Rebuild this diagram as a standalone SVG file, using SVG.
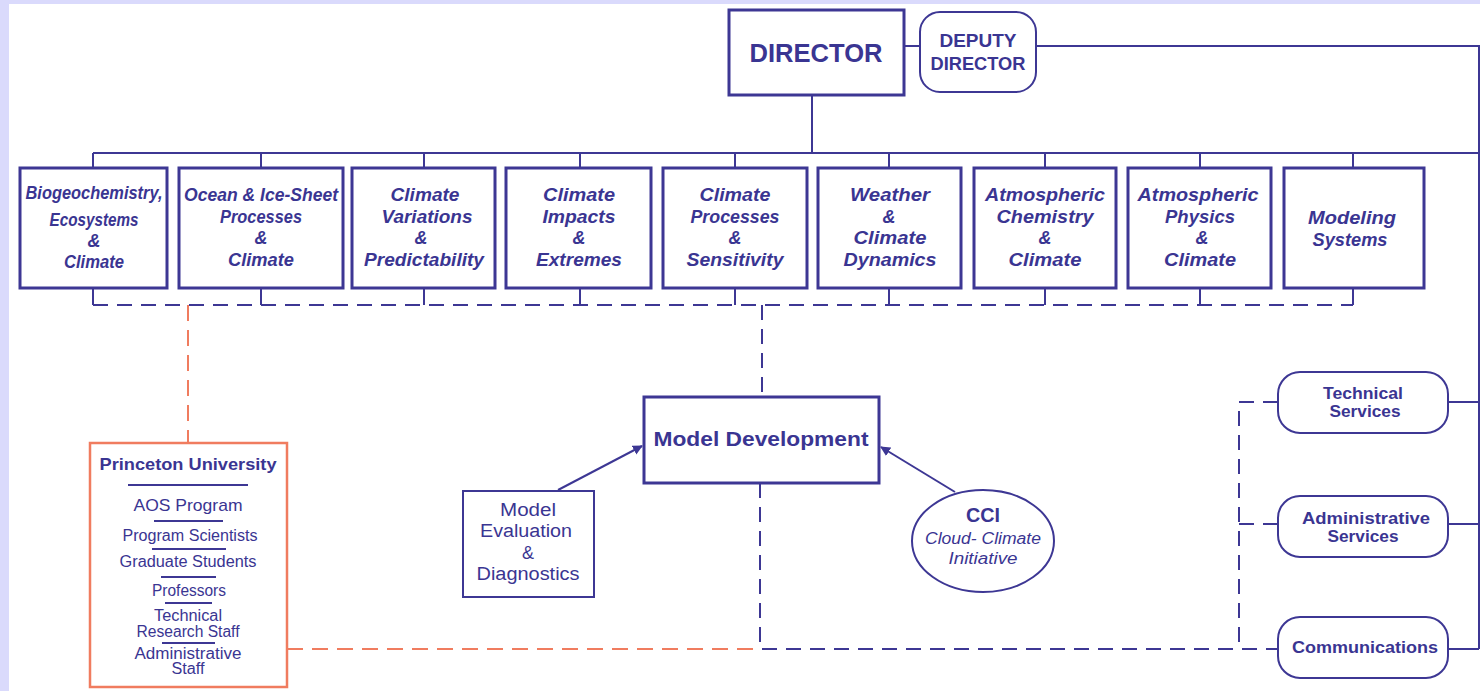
<svg xmlns="http://www.w3.org/2000/svg" width="1480" height="691" viewBox="0 0 1480 691">
<defs>
<style>
.bg{fill:#dadafc}
.box{fill:#fff;stroke:#3d3794;stroke-width:3}
.tbox{fill:#fff;stroke:#3d3794;stroke-width:2}
.ln{fill:none;stroke:#3d3794;stroke-width:2}
.dash{fill:none;stroke:#3d3794;stroke-width:2;stroke-dasharray:15 9}
.odash{fill:none;stroke:#f07c5f;stroke-width:2;stroke-dasharray:16 9}
.obox{fill:#fff;stroke:#f07c5f;stroke-width:2.5}
.sep{stroke:#3d3794;stroke-width:2}
text{fill:#3a3592;font-family:"Liberation Sans",Arial,sans-serif;text-anchor:middle}
.bi{font-weight:bold;font-style:italic;font-size:18px}
.b{font-weight:bold}
.r{font-size:16px}
</style>
<marker id="ah" viewBox="0 0 10 10" refX="9" refY="5" markerWidth="10" markerHeight="10" markerUnits="userSpaceOnUse" orient="auto">
<path d="M0,0 L10,5 L0,10 z" fill="#3d3794"/>
</marker>
</defs>
<rect x="0" y="0" width="1480" height="691" class="bg"/>
<rect x="9" y="4" width="1471" height="687" fill="#fff"/>

<g id="connectors">
<path class="ln" d="M904,46 H920 M1036,46 H1479 V649 M812,95 V153 M93,153 H1479"/>
<path class="ln" d="M93,153 V168 M261,153 V168 M424,153 V168 M580,153 V168 M735,153 V168 M889,153 V168 M1045,153 V168 M1200,153 V168 M1353,153 V168"/>
<path class="ln" d="M93,288 V305 M261,288 V305 M424,288 V305 M580,288 V305 M735,288 V305 M889,288 V305 M1045,288 V305 M1200,288 V305 M1353,288 V305"/>
<path class="dash" d="M93,305 H1353"/>
<path class="dash" d="M762,305 V397"/>
<path class="dash" d="M760,483 V649 H1278"/>
<path class="dash" d="M1278,402 H1239 V649 M1278,524 H1239"/>
<path class="ln" d="M1448,402 H1479 M1448,524 H1479 M1448,649 H1479"/>
<path class="odash" d="M188,305 V443"/>
<path class="odash" d="M287,649 H760"/>
<path class="ln" d="M558,490 L642,446" marker-end="url(#ah)"/>
<path class="ln" d="M955,492 L881,447" marker-end="url(#ah)"/>
</g>

<g id="director">
<rect class="box" x="729" y="10" width="175" height="85"/>
<text x="816" y="62" class="b" font-size="26" textLength="133" lengthAdjust="spacingAndGlyphs">DIRECTOR</text>
</g>
<g id="deputy-director">
<rect class="tbox" x="920" y="12" width="116" height="80" rx="20"/>
<text x="978" y="47" class="b" font-size="18" textLength="77" lengthAdjust="spacingAndGlyphs">DEPUTY</text>
<text x="978" y="70" class="b" font-size="18" textLength="95" lengthAdjust="spacingAndGlyphs">DIRECTOR</text>
</g>

<g id="biogeochemistry">
<rect class="box" x="20" y="168" width="147" height="120"/>
<text class="bi" x="94" y="199" font-size="17" textLength="137" lengthAdjust="spacingAndGlyphs">Biogeochemistry,</text>
<text class="bi" x="94" y="226" font-size="17" textLength="89" lengthAdjust="spacingAndGlyphs">Ecosystems</text>
<text class="bi" x="94" y="247" font-size="17">&amp;</text>
<text class="bi" x="94" y="268" font-size="17" textLength="60" lengthAdjust="spacingAndGlyphs">Climate</text>
</g>
<g id="ocean-ice-sheet">
<rect class="box" x="179" y="168" width="164" height="120"/>
<text class="bi" x="261" y="201" textLength="154" lengthAdjust="spacingAndGlyphs">Ocean &amp; Ice-Sheet</text>
<text class="bi" x="261" y="223" textLength="82" lengthAdjust="spacingAndGlyphs">Processes</text>
<text class="bi" x="261" y="244">&amp;</text>
<text class="bi" x="261" y="266" textLength="66" lengthAdjust="spacingAndGlyphs">Climate</text>
</g>
<g id="climate-variations">
<rect class="box" x="352" y="168" width="143" height="120"/>
<text class="bi" x="425" y="201" textLength="69" lengthAdjust="spacingAndGlyphs">Climate</text>
<text class="bi" x="427" y="223" textLength="91" lengthAdjust="spacingAndGlyphs">Variations</text>
<text class="bi" x="421" y="244">&amp;</text>
<text class="bi" x="424" y="266" textLength="120" lengthAdjust="spacingAndGlyphs">Predictability</text>
</g>
<g id="climate-impacts">
<rect class="box" x="506" y="168" width="145" height="120"/>
<text class="bi" x="579" y="201" textLength="72" lengthAdjust="spacingAndGlyphs">Climate</text>
<text class="bi" x="579" y="223" textLength="73" lengthAdjust="spacingAndGlyphs">Impacts</text>
<text class="bi" x="579" y="244">&amp;</text>
<text class="bi" x="579" y="266" textLength="86" lengthAdjust="spacingAndGlyphs">Extremes</text>
</g>
<g id="climate-processes">
<rect class="box" x="663" y="168" width="144" height="120"/>
<text class="bi" x="735" y="201" textLength="71" lengthAdjust="spacingAndGlyphs">Climate</text>
<text class="bi" x="735" y="223" textLength="89" lengthAdjust="spacingAndGlyphs">Processes</text>
<text class="bi" x="735" y="244">&amp;</text>
<text class="bi" x="735" y="266" textLength="97" lengthAdjust="spacingAndGlyphs">Sensitivity</text>
</g>
<g id="weather-climate-dynamics">
<rect class="box" x="818" y="168" width="143" height="120"/>
<text class="bi" x="890" y="201" textLength="80" lengthAdjust="spacingAndGlyphs">Weather</text>
<text class="bi" x="889" y="223">&amp;</text>
<text class="bi" x="890" y="244" textLength="73" lengthAdjust="spacingAndGlyphs">Climate</text>
<text class="bi" x="890" y="266" textLength="93" lengthAdjust="spacingAndGlyphs">Dynamics</text>
</g>
<g id="atmospheric-chemistry">
<rect class="box" x="974" y="168" width="142" height="120"/>
<text class="bi" x="1045" y="201" textLength="120" lengthAdjust="spacingAndGlyphs">Atmospheric</text>
<text class="bi" x="1045" y="223" textLength="97" lengthAdjust="spacingAndGlyphs">Chemistry</text>
<text class="bi" x="1045" y="244">&amp;</text>
<text class="bi" x="1045" y="266" textLength="73" lengthAdjust="spacingAndGlyphs">Climate</text>
</g>
<g id="atmospheric-physics">
<rect class="box" x="1128" y="168" width="143" height="120"/>
<text class="bi" x="1198" y="201" textLength="121" lengthAdjust="spacingAndGlyphs">Atmospheric</text>
<text class="bi" x="1200" y="223" textLength="70" lengthAdjust="spacingAndGlyphs">Physics</text>
<text class="bi" x="1202" y="244">&amp;</text>
<text class="bi" x="1200" y="266" textLength="72" lengthAdjust="spacingAndGlyphs">Climate</text>
</g>
<g id="modeling-systems">
<rect class="box" x="1284" y="168" width="140" height="120"/>
<text class="bi" x="1352" y="224" textLength="88" lengthAdjust="spacingAndGlyphs">Modeling</text>
<text class="bi" x="1350" y="246" textLength="75" lengthAdjust="spacingAndGlyphs">Systems</text>
</g>

<g id="model-development">
<rect class="box" x="644" y="397" width="235" height="86"/>
<text x="761" y="446" class="b" font-size="20" textLength="215" lengthAdjust="spacingAndGlyphs">Model Development</text>
</g>
<g id="model-evaluation">
<rect class="tbox" x="463" y="491" width="131" height="106"/>
<text x="528" y="516" font-size="18" textLength="56" lengthAdjust="spacingAndGlyphs">Model</text>
<text x="526" y="537" font-size="18" textLength="92" lengthAdjust="spacingAndGlyphs">Evaluation</text>
<text x="528" y="559" font-size="18">&amp;</text>
<text x="528" y="580" font-size="18" textLength="103" lengthAdjust="spacingAndGlyphs">Diagnostics</text>
</g>
<g id="cci">
<ellipse class="tbox" cx="983" cy="541" rx="71" ry="51"/>
<text x="983" y="522" class="b" font-size="20" textLength="34" lengthAdjust="spacingAndGlyphs">CCI</text>
<text x="983" y="544" font-size="16" font-style="italic" textLength="116" lengthAdjust="spacingAndGlyphs">Cloud- Climate</text>
<text x="983" y="564" font-size="16" font-style="italic" textLength="69" lengthAdjust="spacingAndGlyphs">Initiative</text>
</g>

<g id="princeton-university">
<rect class="obox" x="90" y="443" width="197" height="244"/>
<text x="188" y="470" class="b" font-size="17" textLength="177" lengthAdjust="spacingAndGlyphs">Princeton University</text>
<line class="sep" x1="128" y1="485" x2="248" y2="485"/>
<text x="188" y="511" font-size="17" textLength="109" lengthAdjust="spacingAndGlyphs">AOS Program</text>
<line class="sep" x1="154" y1="521" x2="223" y2="521"/>
<text x="190" y="541" class="r" textLength="135" lengthAdjust="spacingAndGlyphs">Program Scientists</text>
<line class="sep" x1="152" y1="549" x2="226" y2="549"/>
<text x="188" y="567" class="r" textLength="137" lengthAdjust="spacingAndGlyphs">Graduate Students</text>
<line class="sep" x1="161" y1="577" x2="216" y2="577"/>
<text x="189" y="596" class="r" textLength="74" lengthAdjust="spacingAndGlyphs">Professors</text>
<line class="sep" x1="165" y1="603" x2="212" y2="603"/>
<text x="188" y="621" class="r" textLength="68" lengthAdjust="spacingAndGlyphs">Technical</text>
<text x="188" y="637" class="r" textLength="103" lengthAdjust="spacingAndGlyphs">Research Staff</text>
<line class="sep" x1="162" y1="643" x2="215" y2="643"/>
<text x="188" y="659" class="r" textLength="107" lengthAdjust="spacingAndGlyphs">Administrative</text>
<text x="188" y="674" class="r" textLength="33" lengthAdjust="spacingAndGlyphs">Staff</text>
</g>

<g id="technical-services">
<rect class="tbox" x="1278" y="372" width="170" height="61" rx="22"/>
<text x="1363" y="399" class="b" font-size="17" textLength="80" lengthAdjust="spacingAndGlyphs">Technical</text>
<text x="1365" y="417" class="b" font-size="17" textLength="71" lengthAdjust="spacingAndGlyphs">Services</text>
</g>
<g id="administrative-services">
<rect class="tbox" x="1278" y="496" width="170" height="61" rx="22"/>
<text x="1366" y="524" class="b" font-size="17" textLength="128" lengthAdjust="spacingAndGlyphs">Administrative</text>
<text x="1363" y="542" class="b" font-size="17" textLength="71" lengthAdjust="spacingAndGlyphs">Services</text>
</g>
<g id="communications">
<rect class="tbox" x="1278" y="617" width="170" height="61" rx="22"/>
<text x="1365" y="653" class="b" font-size="17" textLength="146" lengthAdjust="spacingAndGlyphs">Communications</text>
</g>
</svg>
